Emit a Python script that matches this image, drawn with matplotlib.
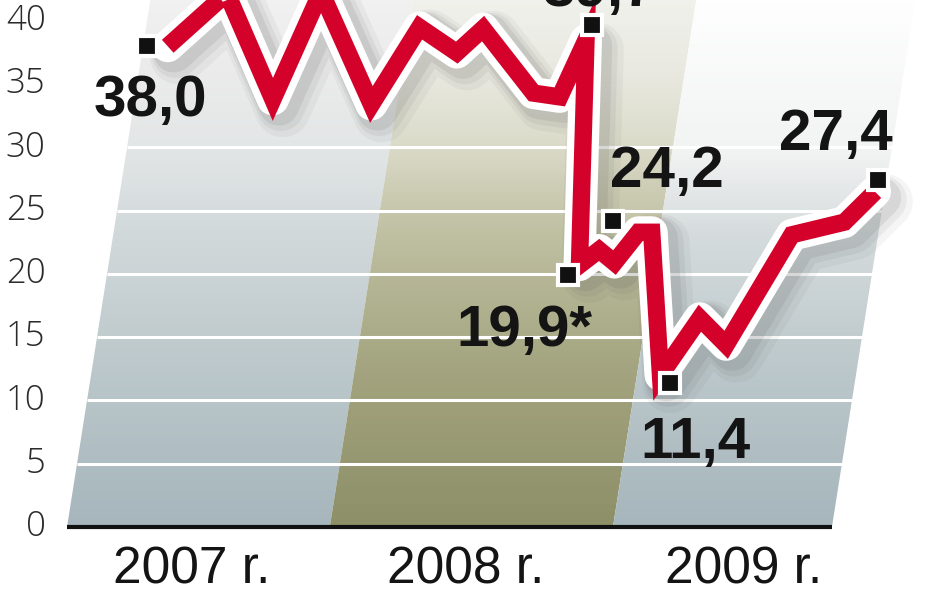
import numpy as np
import matplotlib.pyplot as plt
from matplotlib.patches import Polygon
from matplotlib.colors import LinearSegmentedColormap
import matplotlib.transforms as mtransforms

# x: months counted from the start of 2007 (approximate), y: value
line_x = [4.6, 7.3, 9.4, 11.6, 13.9, 16.1, 17.8, 19.0, 21.3, 22.5, 23.7,
          23.4, 24.3, 25.0, 26.1, 26.7, 27.1, 28.9, 30.1, 33.1, 35.5, 36.9]
line_y = [38.0, 42.2, 33.8, 42.3, 33.4, 39.5, 37.5, 39.4, 34.3, 34.0, 38.5,
          20.7, 21.9, 20.9, 23.3, 23.3, 12.0, 16.5, 14.4, 23.1, 24.1, 26.5]

mark_x = [3.65, 23.97, 22.88, 24.93, 27.53, 37.03]
mark_y = [38.0, 39.7, 19.9, 24.2, 11.4, 27.4]
mark_lbl = ["38,0", "39,7", "19,9*", "24,2", "11,4", "27,4"]
lbl_x = [3.8, 24.3, 20.9, 27.4, 28.7, 35.1]
lbl_y = [33.7, 42.4, 15.5, 28.1, 6.6, 31.0]

years = ["2007 r.", "2008 r.", "2009 r."]
year_x = [5.7, 18.2, 30.9]
band_edges = [0, 12.0, 24.93, 34.93]
yticks = [0, 5, 10, 15, 20, 25, 30, 35, 40]

slant = 0.0913   # sideways shift of the band edges per unit of value
top = 42.5

blue = [(0, '#a6b6bc'), (0.3, '#bcc8cb'), (0.55, '#d2d9db'), (0.72, '#e4e7e7'), (0.85, '#ebebeb'), (1, '#f2f2f2')]
olive = [(0, '#8d8f67'), (0.3, '#a4a580'), (0.55, '#c0c0a3'), (0.72, '#dcdccb'), (0.85, '#e9e9e1'), (1, '#f2f2ee')]
blue2 = [(0, '#a6b6bc'), (0.3, '#bcc8cb'), (0.55, '#d6dcdd'), (0.7, '#f2f3f3'), (1, '#ffffff')]
band_cols = [blue, olive, blue2]

fig = plt.figure(figsize=(9.48, 5.93), dpi=100)
ax = fig.add_axes([0, 0, 1, 1])
ax.set_xlim(-3.06, 40.23)
ax.set_ylim(-5.22, 41.66)
ax.axis('off')

grad = np.linspace(0, 1, 256).reshape(-1, 1)
for i in range(3):
    x0, x1 = band_edges[i], band_edges[i + 1]
    poly = Polygon([(x0, 0), (x1, 0), (x1 + slant * top, top), (x0 + slant * top, top)],
                   closed=True, facecolor='none', edgecolor='none')
    ax.add_patch(poly)
    cm = LinearSegmentedColormap.from_list('b%d' % i, band_cols[i])
    im = ax.imshow(grad, extent=(x0, x1 + slant * top, 0, top), origin='lower',
                   cmap=cm, aspect='auto', zorder=1, interpolation='bilinear')
    im.set_clip_path(poly)

# white grid lines inside the slanted bands
for v in yticks[1:-2]:
    ax.plot([band_edges[0] + slant * v, band_edges[-1] + slant * v], [v, v],
            color='white', lw=2.2, zorder=2, solid_capstyle='butt')
ax.plot([band_edges[0], band_edges[-1]], [0, 0], color='#111111', lw=3, zorder=3,
        solid_capstyle='butt')

# line: soft shadow, white outline, red line
for off, w, a in [(10, 40, 0.06), (8, 34, 0.08), (6, 29, 0.11)]:
    tr = ax.transData + mtransforms.ScaledTranslation(off / 100, -off / 100, fig.dpi_scale_trans)
    ax.plot(line_x, line_y, color='#555555', lw=w, alpha=a, transform=tr, zorder=4,
            solid_joinstyle='round', solid_capstyle='round')
ax.plot(line_x, line_y, color='white', lw=23, zorder=5, solid_joinstyle='round',
        solid_capstyle='round')
ax.plot(line_x, line_y, color='#d4022b', lw=12.5, zorder=6, solid_joinstyle='miter',
        solid_capstyle='butt')

ax.plot(mark_x, mark_y, 's', color='#111111', ms=14, mec='white', mew=3, zorder=7)

for t, x, y in zip(mark_lbl, lbl_x, lbl_y):
    ax.text(x, y, t, fontsize=42, fontweight='bold', family='Liberation Sans',
            color='#141414', ha='center', va='center', zorder=8)

for v in yticks:
    ax.text(-0.98, v, str(v), fontsize=25, family='Open Sans', fontweight='light',
            color='#2b2b2b', ha='right', va='center')

for t, x in zip(years, year_x):
    ax.text(x, -3.4, t, fontsize=37, family='Liberation Sans', color='#141414',
            ha='center', va='center')

fig.savefig('out.png', dpi=100)
